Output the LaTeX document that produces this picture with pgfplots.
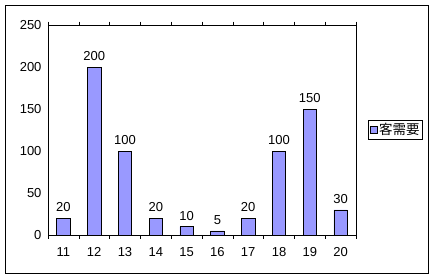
\documentclass[border=0pt]{standalone}
\usepackage{fontspec}
\setmainfont{Liberation Sans}
\newfontfamily\cjk{Noto Sans CJK JP}
\usepackage{pgfplots}
\pgfplotsset{compat=1.18}
\definecolor{barcol}{HTML}{9999FF}
\begin{document}
\begin{tikzpicture}[x=1pt,y=1pt]
\useasboundingbox (0,0) rectangle (436,279);
\draw[black,line width=0.8pt] (5,6) rectangle (428.5,274);
\begin{axis}[
  at={(48pt,44pt)}, anchor=south west,
  scale only axis, width=308pt, height=210pt,
  xmin=-0.5, xmax=9.5, ymin=0, ymax=250,
  ytick={0,50,...,250},
  xtick={0,...,9},
  xticklabels={11,12,13,14,15,16,17,18,19,20},
  minor xtick={-0.5,0.5,...,9.5},
  major x tick style={draw=none},
  minor x tick style={black, line width=0.6pt},
  minor tick length=3.5pt,
  tick align=inside,
  ytick style={draw=none},
  axis line style={black, line width=0.8pt},
  /pgf/number format/assume math mode=true,
  tick label style={font=\fontsize{13}{15}\selectfont},
  yticklabel style={xshift=-3pt},
  xticklabel style={yshift=-5pt},
  ybar, bar width=13.5pt,
  nodes near coords,
  every node near coord/.append style={font=\fontsize{13}{15}\selectfont, yshift=2.5pt},
  legend style={at={(1,0.5)}, anchor=west, xshift=12pt, draw=black, line width=0.6pt,
    font=\cjk\fontsize{13.5}{15}\selectfont, inner sep=1.2pt, row sep=0pt},
  legend image code/.code={\draw[draw=black,line width=0.5pt,fill=barcol] (0pt,-3.5pt) rectangle (7pt,3.5pt);},
]
\addplot[draw=black, line width=0.6pt, fill=barcol] coordinates {
(0,20) (1,200) (2,100) (3,20) (4,10) (5,5) (6,20) (7,100) (8,150) (9,30)};
\addlegendentry{客需要}
\end{axis}
\end{tikzpicture}
\end{document}
